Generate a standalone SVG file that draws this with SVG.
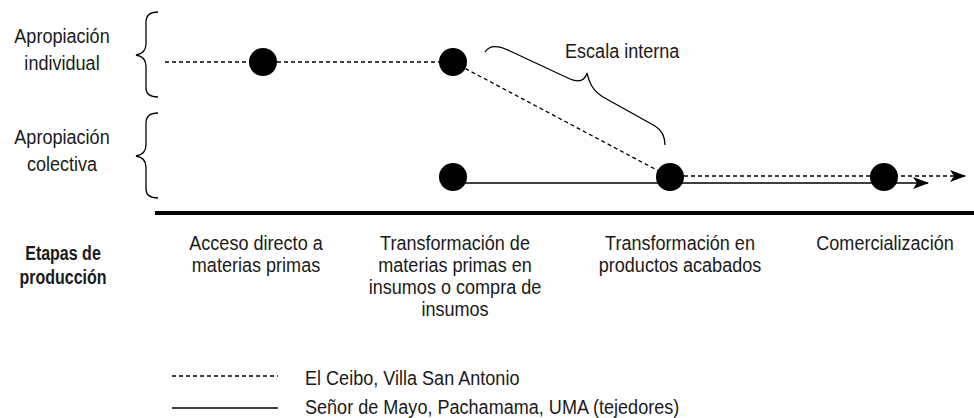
<svg xmlns="http://www.w3.org/2000/svg" width="974" height="418" viewBox="0 0 974 418">
<defs>
<style>
text{font-family:"Liberation Sans",Arial,sans-serif;font-size:21px;fill:#1a1a1a}
.c{text-anchor:middle}
.b{font-weight:bold;font-size:20px}
.dash{stroke:#000;stroke-width:1.3;stroke-dasharray:4 3;fill:none}
.solid{stroke:#000;stroke-width:1.5;fill:none}
.brace{stroke:#000;stroke-width:1.3;fill:none}
.dot{fill:#000}
</style>
<marker id="ah" viewBox="0 0 16 12" refX="15" refY="6" markerWidth="16" markerHeight="12" markerUnits="userSpaceOnUse" orient="auto">
<path d="M0,0 L16,6 L0,12 L4,6 Z" fill="#000"/>
</marker>
</defs>
<rect width="974" height="418" fill="#fff"/>

<g id="labels-left">
<g transform="translate(62,0) scale(0.86,1)">
<text class="c" x="0" y="43">Apropiación</text>
<text class="c" x="0" y="70">individual</text>
<text class="c" x="0" y="144">Apropiación</text>
<text class="c" x="0" y="171">colectiva</text>
</g>
<g transform="translate(63,0) scale(0.8,1)">
<text class="c b" x="0" y="260">Etapas de</text>
<text class="c b" x="0" y="284">producción</text>
</g>
</g>

<g id="braces">
<path class="brace" d="M158,12 C150,12 146,15 146,22 L146,44 C146,50 142,54 136,55 C142,56 146,60 146,66 L146,88 C146,94 150,97 158,97"/>
<path class="brace" d="M158,113 C150,113 146,116 146,123 L146,145 C146,151 142,155 136,156 C142,157 146,161 146,167 L146,189 C146,195 150,198 158,198"/>
<path class="brace" d="M485,52 C490,44 500,46 510,51 L570,79 C580,83 585,80 587,73 C589,82 592,90 603,97 L655,126 C663,131 665,138 665,145"/>
</g>

<g id="escala" transform="translate(565,0) scale(0.86,1)">
<text x="0" y="58">Escala interna</text>
</g>

<g id="connectors">
<line class="dash" x1="165" y1="62" x2="453" y2="62"/>
<line class="dash" x1="453" y1="62" x2="670" y2="177"/>
<line class="dash" x1="670" y1="176" x2="965" y2="176" marker-end="url(#ah)"/>
<line class="solid" x1="453" y1="183" x2="928" y2="183" marker-end="url(#ah)"/>
</g>

<g id="n1"><circle class="dot" cx="263" cy="62" r="14"/></g>
<g id="n2"><circle class="dot" cx="453" cy="62" r="14"/></g>
<g id="n3"><circle class="dot" cx="453" cy="177" r="14"/></g>
<g id="n4"><circle class="dot" cx="670" cy="177" r="14"/></g>
<g id="n5"><circle class="dot" cx="884" cy="177" r="14"/></g>

<line id="axis" x1="155" y1="213" x2="974" y2="213" stroke="#000" stroke-width="4"/>

<g id="stages">
<g transform="translate(256,0) scale(0.86,1)">
<text class="c" x="0" y="250">Acceso directo a</text>
<text class="c" x="0" y="272">materias primas</text>
</g>
<g transform="translate(455,0) scale(0.86,1)">
<text class="c" x="0" y="250">Transformación de</text>
<text class="c" x="0" y="272">materias primas en</text>
<text class="c" x="0" y="294">insumos o compra de</text>
<text class="c" x="0" y="316">insumos</text>
</g>
<g transform="translate(680,0) scale(0.86,1)">
<text class="c" x="0" y="250">Transformación en</text>
<text class="c" x="0" y="272">productos acabados</text>
</g>
<g transform="translate(885,0) scale(0.86,1)">
<text class="c" x="0" y="250">Comercialización</text>
</g>
</g>

<g id="legend">
<line class="dash" x1="172" y1="376" x2="278" y2="376"/>
<line class="solid" x1="172" y1="408" x2="278" y2="408"/>
<g transform="translate(305,0) scale(0.86,1)">
<text x="0" y="385">El Ceibo, Villa San Antonio</text>
<text x="0" y="414">Señor de Mayo, Pachamama, UMA (tejedores)</text>
</g>
</g>
</svg>
